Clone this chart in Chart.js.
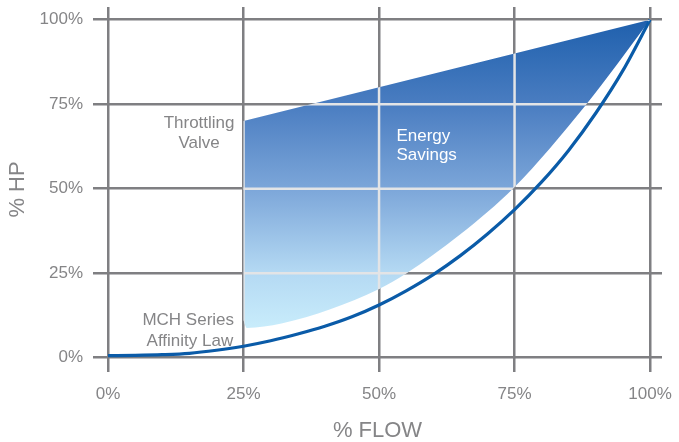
<!DOCTYPE html>
<html>
<head>
<meta charset="utf-8">
<script src="https://cdn.jsdelivr.net/npm/chart.js@4.4.1/dist/chart.umd.min.js"></script>
<style>
  html, body { margin: 0; padding: 0; background: #fff; }
  #wrap { width: 679px; height: 442px; }
</style>
</head>
<body>
<div id="wrap"><canvas id="hpChart"></canvas></div>
<script>
// % flow / % hp readings
const tickValues = [0, 25, 50, 75, 100];

const affinityFlow = [0, 5, 10, 15, 20, 25, 30, 35, 40, 45, 50, 55, 60, 65, 70, 75, 80, 85, 90, 95, 100];
const affinityHp = [0.6, 0.7, 0.9, 1.3, 2.2, 3.4, 5.0, 7.0, 9.3, 12.1, 15.6, 19.8, 24.6, 30.2, 36.6, 43.8, 52, 61.4, 72.4, 85, 100];

// throttling valve line (top edge of savings area)
const valveFlow = [25, 100];
const valveHp = [70, 100];

// lower edge of savings area
const savingsFlow = [25, 25.6, 32, 41, 50, 55, 65, 75, 88, 94, 100];
const savingsHp = [11, 8.8, 10.1, 14.3, 20.3, 24.9, 36.5, 50.5, 74.5, 87, 100];

const textGray = '#858587';
const gridGray = '#7f7f82';
const fontFamily = '"Liberation Sans", Arial, Helvetica, sans-serif';

function toPoints(xs, ys) {
    return xs.map((x, i) => ({ x: x, y: ys[i] }));
}

function savingsGradient(context) {
    const chart = context.chart;
    const { ctx, chartArea, scales } = chart;
    if (!chartArea) return '#5b8bc9';
    const g = ctx.createLinearGradient(0, scales.y.getPixelForValue(100), 0, scales.y.getPixelForValue(9));
    g.addColorStop(0, '#1f60ad');
    g.addColorStop(0.275, '#4a7dc1');
    g.addColorStop(0.55, '#7ca6d9');
    g.addColorStop(0.82, '#b4d9f3');
    g.addColorStop(1, '#c8ecfb');
    return g;
}

// light grid inside the savings area + text notes
const overlay = {
    id: 'overlay',
    afterDatasetsDraw(chart) {
        const { ctx, chartArea, scales } = chart;
        const xs = scales.x, ys = scales.y;
        const top = chart.getDatasetMeta(0).dataset;
        const bottom = chart.getDatasetMeta(1).dataset;

        ctx.save();
        ctx.beginPath();
        top.path(ctx);
        ctx.lineTo(xs.getPixelForValue(valveFlow[valveFlow.length - 1]), chartArea.bottom);
        ctx.lineTo(xs.getPixelForValue(valveFlow[0]), chartArea.bottom);
        ctx.closePath();
        ctx.clip();
        ctx.beginPath();
        bottom.path(ctx);
        ctx.lineTo(xs.getPixelForValue(savingsFlow[savingsFlow.length - 1]), chartArea.top);
        ctx.lineTo(xs.getPixelForValue(savingsFlow[0]) - 2, chartArea.top);
        ctx.lineTo(xs.getPixelForValue(savingsFlow[0]) - 2, ys.getPixelForValue(savingsHp[0]));
        ctx.closePath();
        ctx.clip();
        ctx.strokeStyle = '#e3e4e6';
        ctx.lineWidth = 2.5;
        tickValues.forEach(v => {
            const px = xs.getPixelForValue(v);
            const py = ys.getPixelForValue(v);
            ctx.beginPath();
            ctx.moveTo(px, chartArea.top);
            ctx.lineTo(px, chartArea.bottom);
            ctx.moveTo(chartArea.left, py);
            ctx.lineTo(chartArea.right, py);
            ctx.stroke();
        });
        ctx.restore();

        ctx.save();
        ctx.font = '17px ' + fontFamily;
        ctx.textBaseline = 'alphabetic';
        ctx.fillStyle = textGray;
        ctx.textAlign = 'center';
        ctx.fillText('Throttling', xs.getPixelForValue(16.8), ys.getPixelForValue(68));
        ctx.fillText('Valve', xs.getPixelForValue(16.8), ys.getPixelForValue(62));
        ctx.fillText('MCH Series', xs.getPixelForValue(14.8), ys.getPixelForValue(9.8));
        ctx.fillText('Affinity Law', xs.getPixelForValue(15.1), ys.getPixelForValue(3.6));
        ctx.fillStyle = '#ffffff';
        ctx.textAlign = 'left';
        ctx.fillText('Energy', xs.getPixelForValue(53.2), ys.getPixelForValue(64.2));
        ctx.fillText('Savings', xs.getPixelForValue(53.2), ys.getPixelForValue(58.6));
        ctx.restore();
    }
};

const ctx = document.getElementById('hpChart');
const hpChart = new Chart(ctx, {
    type: 'line',
    data: {
        datasets: [{
            label: 'Throttling Valve',
            data: toPoints(valveFlow, valveHp),
            borderColor: 'rgba(0,0,0,0)',
            borderWidth: 0,
            backgroundColor: savingsGradient,
            fill: '+1',
            pointRadius: 0,
            tension: 0,
            order: 2
        }, {
            label: 'Savings edge',
            data: toPoints(savingsFlow, savingsHp),
            borderColor: 'rgba(0,0,0,0)',
            borderWidth: 0,
            fill: false,
            pointRadius: 0,
            cubicInterpolationMode: 'monotone',
            order: 2
        }, {
            label: 'MCH Series Affinity Law',
            data: toPoints(affinityFlow, affinityHp),
            borderColor: '#0a5ba8',
            borderWidth: 3.2,
            fill: false,
            pointRadius: 0,
            cubicInterpolationMode: 'monotone',
            order: 1
        }]
    },
    options: {
        responsive: true,
        maintainAspectRatio: false,
        animation: false,
        layout: { padding: { top: 7, right: 17, left: 0, bottom: 0 } },
        plugins: {
            legend: { display: false },
            tooltip: { enabled: false }
        },
        scales: {
            x: {
                type: 'linear',
                min: -2.77,
                max: 102.2,
                afterBuildTicks: axis => { axis.ticks = tickValues.map(v => ({ value: v })); },
                afterFit: axis => { axis.height = 70; axis.paddingLeft = 0; axis.paddingRight = 0; },
                border: { display: false },
                grid: { color: gridGray, lineWidth: 2.5, drawTicks: false },
                ticks: {
                    padding: 12,
                    color: textGray,
                    font: { family: fontFamily, size: 17 },
                    maxRotation: 0,
                    callback: v => v + '%'
                },
                title: {
                    display: true,
                    text: '% FLOW',
                    color: textGray,
                    font: { family: fontFamily, size: 22, lineHeight: 1 },
                    padding: { top: 0, bottom: 0 }
                }
            },
            y: {
                min: -4.23,
                max: 103.76,
                afterBuildTicks: axis => { axis.ticks = tickValues.map(v => ({ value: v })); },
                afterFit: axis => { axis.width = 93; axis.paddingTop = 0; axis.paddingBottom = 0; },
                border: { display: false },
                grid: { color: gridGray, lineWidth: 2.5, drawTicks: false },
                ticks: {
                    padding: 10,
                    color: textGray,
                    font: { family: fontFamily, size: 17 },
                    callback: v => v + '%'
                },
                title: {
                    display: true,
                    text: '% HP',
                    color: textGray,
                    font: { family: fontFamily, size: 22, lineHeight: 1 },
                    padding: { top: 6.5, bottom: 0 }
                }
            }
        }
    },
    plugins: [overlay]
});
</script>
</body>
</html>
